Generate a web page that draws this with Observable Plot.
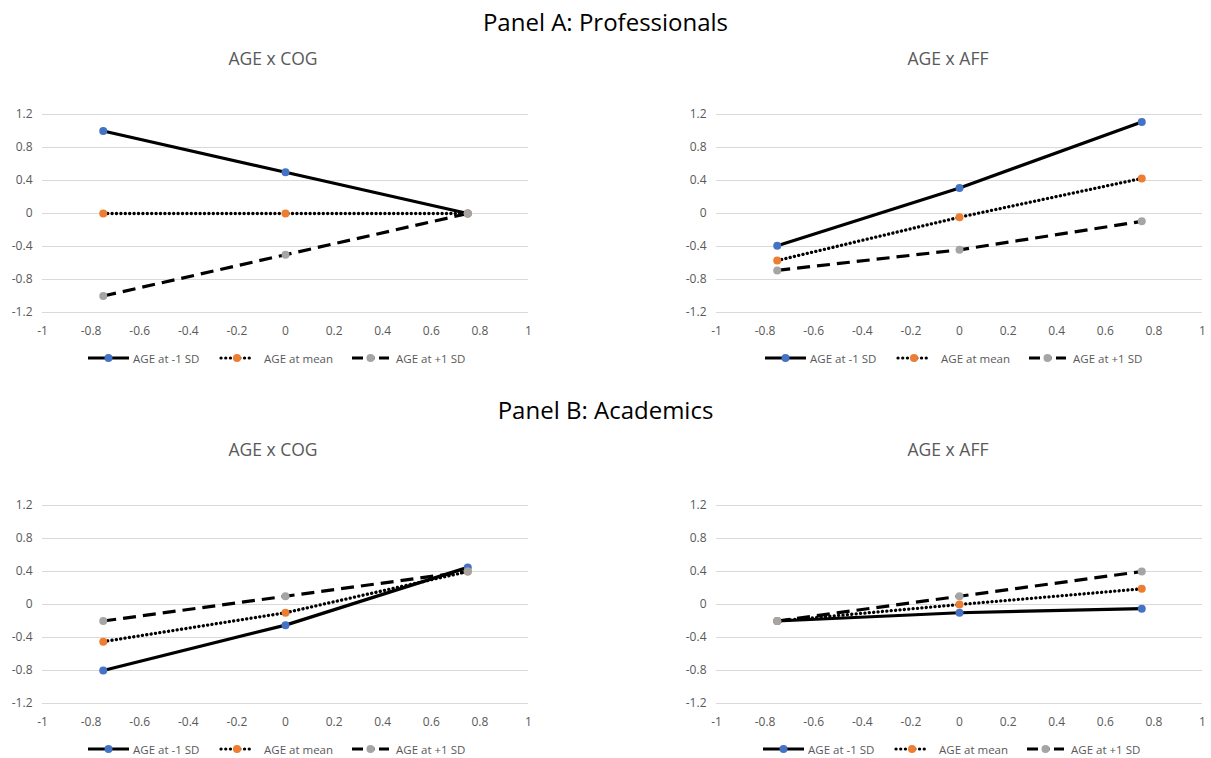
<!DOCTYPE html>
<html>
<head>
<meta charset="utf-8">
<script src="https://cdn.jsdelivr.net/npm/d3@7"></script>
<script src="https://cdn.jsdelivr.net/npm/@observablehq/plot@0.6"></script>
<style>
  html, body { margin: 0; padding: 0; background: #fff; }
  body { width: 1211px; height: 758px; position: relative; overflow: hidden; font-family: "Open Sans", sans-serif; }
  .abs { position: absolute; }
  .panelTitle { font-size: 24px; color: #000; text-align: center; width: 1211px; left: 0; line-height: 30px; }
  .subTitle { font-size: 17.5px; color: #595959; text-align: center; line-height: 22px; }
  .legend { font-size: 11.5px; color: #595959; white-space: nowrap; height: 16px; width: 420px; }
  .legend .item { position: absolute; top: 0; display: flex; align-items: center; height: 16px; }
</style>
</head>
<body>
<div id="root"></div>
<script>
// ---- data ----
const xValues = [-0.75, 0, 0.75];
const seriesNames = ["AGE at -1 SD", "AGE at mean", "AGE at +1 SD"];
const yTicks = [-1.2, -0.8, -0.4, 0, 0.4, 0.8, 1.2];
const xTicks = [-1, -0.8, -0.6, -0.4, -0.2, 0, 0.2, 0.4, 0.6, 0.8, 1];

const profCogLow  = [1.0, 0.5, 0.0];
const profCogMean = [0.0, 0.0, 0.0];
const profCogHigh = [-1.0, -0.5, 0.0];

const profAffLow  = [-0.39, 0.31, 1.11];
const profAffMean = [-0.57, -0.045, 0.425];
const profAffHigh = [-0.69, -0.44, -0.095];

const acadCogLow  = [-0.80, -0.25, 0.45];
const acadCogMean = [-0.45, -0.10, 0.40];
const acadCogHigh = [-0.20, 0.10, 0.40];

const acadAffLow  = [-0.20, -0.10, -0.05];
const acadAffMean = [-0.20, 0.00, 0.19];
const acadAffHigh = [-0.20, 0.10, 0.40];

const seriesColors = ["#4472C4", "#ED7D31", "#A5A5A5"];
const seriesDash = [null, "0.1,4.3", "13,7"];

function rows(low, mean, high) {
  const out = [];
  [low, mean, high].forEach((vals, si) => {
    vals.forEach((v, i) => out.push({ x: xValues[i], y: v, s: seriesNames[si] }));
  });
  return out;
}

function makeChart(data, width) {
  const marks = [
    Plot.ruleY(yTicks, { stroke: "#d9d9d9", strokeWidth: 1 }),
    Plot.axisY(yTicks, { tickSize: 0, tickPadding: 10, fontSize: 12, fill: "#595959", tickFormat: d => String(d), label: null }),
    Plot.axisX(xTicks, { tickSize: 0, tickPadding: 14, fontSize: 12, fill: "#595959", tickFormat: d => String(d), label: null })
  ];
  seriesNames.forEach((name, si) => {
    const d = data.filter(r => r.s === name);
    marks.push(Plot.line(d, {
      x: "x", y: "y", stroke: "#000", strokeWidth: si === 1 ? 3.3 : 3.2,
      strokeDasharray: seriesDash[si] || undefined,
      strokeLinecap: si === 1 ? "round" : "butt"
    }));
  });
  seriesNames.forEach((name, si) => {
    const d = data.filter(r => r.s === name);
    marks.push(Plot.dot(d, { x: "x", y: "y", r: 4, fill: seriesColors[si], stroke: "none" }));
  });
  return Plot.plot({
    width: width,
    height: 260,
    marginTop: 34,
    marginBottom: 28,
    marginLeft: 42,
    marginRight: width - 42 - 486,
    x: { domain: [-1, 1], label: null },
    y: { domain: [-1.2, 1.2], label: null },
    style: { fontFamily: "'Open Sans', sans-serif", background: "transparent", overflow: "visible" },
    marks
  });
}

const legendOffsets = [0, 131, 264];
const swatchWidths = [41, 36, 37];
const textGaps = [4, 9, 7];

function makeLegend() {
  const div = document.createElement("div");
  div.className = "legend";
  seriesNames.forEach((name, si) => {
    const item = document.createElement("div");
    item.className = "item";
    item.style.left = legendOffsets[si] + "px";
    const w = swatchWidths[si];
    const svgNS = "http://www.w3.org/2000/svg";
    const svg = document.createElementNS(svgNS, "svg");
    svg.setAttribute("width", w); svg.setAttribute("height", 10);
    svg.style.marginRight = textGaps[si] + "px";
    const line = document.createElementNS(svgNS, "line");
    line.setAttribute("x1", si === 1 ? 2 : 0); line.setAttribute("x2", si === 1 ? w - 2 : w);
    line.setAttribute("y1", 5); line.setAttribute("y2", 5);
    line.setAttribute("stroke", "#000"); line.setAttribute("stroke-width", 3.2);
    if (si === 1) { line.setAttribute("stroke-dasharray", "0.1,4.6"); line.setAttribute("stroke-linecap", "round"); }
    if (si === 2) line.setAttribute("stroke-dasharray", "11,4.5,7,4.5,11");
    svg.appendChild(line);
    const c = document.createElementNS(svgNS, "circle");
    c.setAttribute("cx", w / 2); c.setAttribute("cy", 5); c.setAttribute("r", 4);
    c.setAttribute("fill", seriesColors[si]);
    svg.appendChild(c);
    item.appendChild(svg);
    const t = document.createElement("span");
    t.textContent = name;
    item.appendChild(t);
    div.appendChild(item);
  });
  return div;
}

const root = document.getElementById("root");
function addText(cls, text, left, top, width) {
  const d = document.createElement("div");
  d.className = "abs " + cls;
  d.textContent = text;
  d.style.top = top + "px";
  if (left != null) d.style.left = left + "px";
  if (width != null) d.style.width = width + "px";
  root.appendChild(d);
}

addText("panelTitle", "Panel A: Professionals", 0, 7);
addText("panelTitle", "Panel B: Academics", 0, 395);

const panels = [
  { data: rows(profCogLow, profCogMean, profCogHigh), title: "AGE x COG", left: 0, top: 80, width: 560, tcx: 273, lx: 88 },
  { data: rows(profAffLow, profAffMean, profAffHigh), title: "AGE x AFF", left: 674, top: 80, width: 537, tcx: 948, lx: 765 },
  { data: rows(acadCogLow, acadCogMean, acadCogHigh), title: "AGE x COG", left: 0, top: 471, width: 560, tcx: 273, lx: 88 },
  { data: rows(acadAffLow, acadAffMean, acadAffHigh), title: "AGE x AFF", left: 674, top: 471, width: 537, tcx: 948, lx: 763 }
];

panels.forEach(p => {
  addText("subTitle", p.title, p.tcx - 100, p.top - 33, 200);
  const wrap = document.createElement("div");
  wrap.className = "abs";
  wrap.style.left = p.left + "px";
  wrap.style.top = p.top + "px";
  wrap.appendChild(makeChart(p.data, p.width));
  root.appendChild(wrap);
  const lg = makeLegend();
  lg.classList.add("abs");
  lg.style.left = p.lx + "px";
  lg.style.top = (p.top + 270) + "px";
  root.appendChild(lg);
});
</script>
</body>
</html>
